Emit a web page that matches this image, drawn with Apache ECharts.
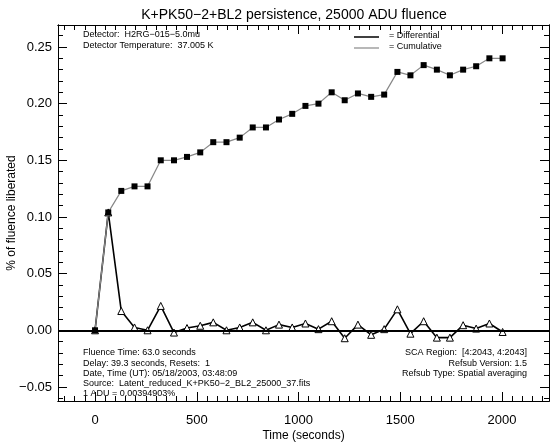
<!DOCTYPE html>
<html><head><meta charset="utf-8">
<script src="https://cdn.jsdelivr.net/npm/echarts@6/dist/echarts.min.js"></script>
<style>html,body{margin:0;padding:0;background:#fff}#c{width:550px;height:443px}</style>
</head><body><div id="c"></div>
<script>
// ---- data ----
const times = [0, 65, 129, 194, 258, 323, 388, 452, 517, 581, 646, 711, 775, 840, 904, 969,
  1034, 1098, 1163, 1227, 1292, 1357, 1421, 1486, 1550, 1615, 1680, 1744, 1809, 1873, 1938, 2003];
const differential = [0, 0.104, 0.017, 0.0025, 0, 0.0215, -0.002, 0.002, 0.004, 0.007, 0, 0.0025,
  0.007, 0, 0.005, 0.0025, 0.006, 0.001, 0.008, -0.007, 0.005, -0.004, 0.001, 0.0185, -0.003,
  0.008, -0.0065, -0.0065, 0.0045, 0.0015, 0.006, -0.0015];
const cumulative = [0, 0.104, 0.123, 0.127, 0.127, 0.150, 0.150, 0.153, 0.157, 0.166, 0.166, 0.170,
  0.179, 0.179, 0.186, 0.191, 0.198, 0.200, 0.210, 0.203, 0.209, 0.206, 0.208, 0.228, 0.225,
  0.234, 0.230, 0.225, 0.230, 0.233, 0.240, 0.240];
const xMajorTicks = [0, 500, 1000, 1500, 2000];
const yMajorTicks = [-0.05, 0, 0.05, 0.10, 0.15, 0.20, 0.25];
const titleText = 'K+PK50\u22122+BL2 persistence, 25000 ADU fluence';
const xName = 'Time (seconds)';
const yName = '% of fluence liberated';
const topLeftNotes = ['Detector:  H2RG\u2212015\u22125.0mu', 'Detector Temperature:  37.005 K'];
const bottomLeftNotes = ['Fluence Time: 63.0 seconds', 'Delay: 39.3 seconds, Resets:  1',
  'Date, Time (UT): 05/18/2003, 03:48:09', 'Source:  Latent_reduced_K+PK50\u22122_BL2_25000_37.fits',
  '1 ADU = 0.00394903%'];
const bottomRightNotes = ['SCA Region:  [4:2043, 4:2043]', 'Refsub Version: 1.5', 'Refsub Type: Spatial averaging'];
const legendNames = ['= Differential', '= Cumulative'];

// ---- layout ----
const X_MIN = -182, X_MAX = 2231, Y_MIN = -0.0624, Y_MAX = 0.2694;
const xMinorTicks = []; for (let v = -150; v <= 2200; v += 50) xMinorTicks.push(v);
const yMinorTicks = []; for (let k = -6; k <= 26; k++) yMinorTicks.push(+(k * 0.01).toFixed(2));
const FONT = 'Liberation Sans';

function xAx(pos, ticks, len, labels) {
  return {
    type: 'value', position: pos, min: X_MIN, max: X_MAX,
    name: labels ? xName : '', nameLocation: 'middle', nameGap: 29, nameMoveOverlap: false,
    nameTextStyle: { fontFamily: FONT, fontSize: 12, color: '#000' },
    axisLine: { show: true, onZero: false, lineStyle: { color: '#000', width: 1 } },
    axisTick: { show: true, inside: true, length: len, customValues: ticks, lineStyle: { color: '#000', width: 1 } },
    axisLabel: { show: labels, customValues: ticks, margin: 13, fontFamily: FONT, fontSize: 13, color: '#000',
      formatter: v => String(v) },
    splitLine: { show: false }
  };
}
function yAx(pos, ticks, len, labels) {
  return {
    type: 'value', position: pos, min: Y_MIN, max: Y_MAX,
    name: labels ? yName : '', nameLocation: 'middle', nameGap: 40, nameRotate: 90, nameMoveOverlap: false,
    nameTextStyle: { fontFamily: FONT, fontSize: 12, color: '#000' },
    axisLine: { show: true, onZero: false, lineStyle: { color: '#000', width: 1 } },
    axisTick: { show: true, inside: true, length: len, customValues: ticks, lineStyle: { color: '#000', width: 1 } },
    axisLabel: { show: labels, customValues: ticks, margin: 6, fontFamily: FONT, fontSize: 13, color: '#000',
      formatter: v => v.toFixed(2).replace('-', '\u2212') },
    splitLine: { show: false }
  };
}

const txt = (x, y, s, align) => ({
  type: 'text', x: x, y: y, z: 100,
  style: { text: s, fontFamily: FONT, fontSize: 9, fill: '#000', textAlign: align || 'left', textVerticalAlign: 'middle' }
});

const graphics = [];
topLeftNotes.forEach((s, i) => graphics.push(txt(83, 35 + i * 11, s)));
bottomLeftNotes.forEach((s, i) => graphics.push(txt(83, 353 + i * 10.2, s)));
bottomRightNotes.forEach((s, i) => graphics.push(txt(527, 353 + i * 10.2, s, 'right')));
graphics.push({ type: 'line', z: 100, shape: { x1: 354, y1: 37, x2: 379, y2: 37 }, style: { stroke: '#000', lineWidth: 1.5 } });
graphics.push({ type: 'line', z: 100, shape: { x1: 354, y1: 48, x2: 379, y2: 48 }, style: { stroke: '#888', lineWidth: 1.2 } });
graphics.push(txt(389, 36, legendNames[0]));
graphics.push(txt(389, 47, legendNames[1]));

const chart = echarts.init(document.getElementById('c'), null, { renderer: 'canvas' });
chart.setOption({
  animation: false,
  backgroundColor: '#fff',
  title: { text: titleText, left: 289, top: 3, textAlign: 'center',
    textStyle: { fontFamily: FONT, fontSize: 14, fontWeight: 'normal', color: '#000' } },
  grid: { left: 58, right: 1, top: 25, bottom: 42, containLabel: false, outerBoundsMode: 'none' },
  xAxis: [xAx('bottom', xMajorTicks, 9, true), xAx('bottom', xMinorTicks, 5, false),
          xAx('top', xMajorTicks, 9, false), xAx('top', xMinorTicks, 5, false)],
  yAxis: [yAx('left', yMajorTicks, 9, true), yAx('left', yMinorTicks, 5, false),
          yAx('right', yMajorTicks, 9, false), yAx('right', yMinorTicks, 5, false)],
  graphic: graphics,
  series: [
    {
      name: 'Differential', type: 'line', xAxisIndex: 0, yAxisIndex: 0, z: 3,
      data: times.map((t, i) => [t, differential[i]]),
      symbol: 'triangle', symbolSize: 7, showAllSymbol: true,
      lineStyle: { color: '#000', width: 1.6 },
      itemStyle: { color: '#fff', borderColor: '#000', borderWidth: 1 },
      markLine: { silent: true, symbol: 'none', label: { show: false },
        lineStyle: { color: '#000', width: 2, type: 'solid' }, data: [{ yAxis: 0 }] }
    },
    {
      name: 'Cumulative', type: 'line', xAxisIndex: 0, yAxisIndex: 0, z: 4,
      data: times.map((t, i) => [t, cumulative[i]]),
      symbol: 'rect', symbolSize: 6, showAllSymbol: true,
      lineStyle: { color: '#888', width: 1.2 },
      itemStyle: { color: '#000', borderColor: '#000', borderWidth: 0 }
    }
  ]
});
</script></body></html>
